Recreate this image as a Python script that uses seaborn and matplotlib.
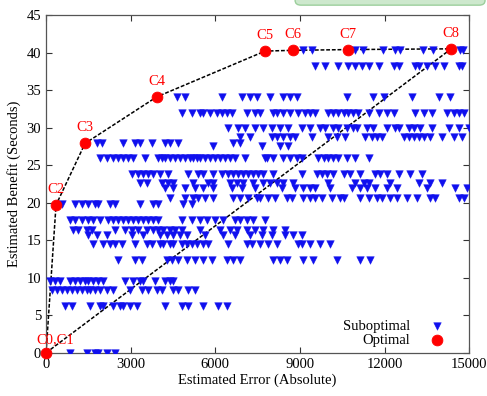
import numpy as np
import pandas as pd
import matplotlib
matplotlib.use("Agg")
import matplotlib.pyplot as plt
from matplotlib.patches import FancyBboxPatch
import seaborn as sns

# Suboptimal configurations, one list of x values per benefit level
row_40_4 = [9113, 9432, 10957, 11241, 11950, 12376, 12553, 13369, 13723, 14680, 14787]
row_38_2 = [9539, 9894, 10366, 10720, 10957, 11194, 11430, 11785, 12317, 12494, 13085,
            13203, 13499, 13794, 14089, 14621, 14739]
row_34_1 = [4634, 4929, 6229, 6939, 7234, 7471, 7943, 8416, 8652, 8889, 10662, 11607,
            11962, 12967, 13912, 14326]
row_32_0 = [4811, 5166, 5461, 5579, 5816, 6052, 6229, 6407, 6584, 7116, 7412, 7589, 8061,
            8180, 8416, 8652, 8948, 9184, 9362, 9539, 10012, 10189, 10366, 10544, 10721,
            10898, 11075, 11430, 11785, 12080, 12317, 13085, 13381, 13676, 14208, 14444,
            14622, 14800]
row_30_0 = [6466, 6820, 7057, 7412, 7707, 8002, 8298, 8593, 9066, 9362, 9716, 9894, 10189,
            10366, 10662, 10898, 11016, 11371, 11607, 12080, 12376, 12494, 12849, 13026,
            13263, 13676, 14267, 14622, 14977]
row_28_8 = [6879, 7234, 8002, 8180, 8416, 8652, 8830, 9421, 10012, 10307, 10603, 11312,
            11549, 11726, 11903, 12671, 12849, 13026, 13204, 13381, 13617, 14031, 14444, 14740]
row_27_9 = [1797, 1974, 2742, 3156, 3333, 3747, 4220, 4397, 4693, 6643, 6879]
row_27_6 = [5934, 7648, 8300, 8593]
row_25_9 = [1915, 2151, 2388, 2565, 2742, 2920, 3097, 3511, 3984, 4102, 4220, 4397, 4575,
            4752, 4929, 5107, 5225, 5343, 5461, 5638, 5816, 5993, 6170, 6348, 6525, 6702,
            7057, 7766, 7825, 8062, 8416, 8652, 8889, 9066, 9657, 9835, 10012, 10189, 10366,
            10662, 10958, 11431]
row_23_8 = [3038, 3274, 3452, 3629, 3806, 4043, 4338, 5047, 5402, 5579, 5934, 6229, 6466,
            6643, 6820, 6998, 7175, 7352, 7530, 7707, 8062, 9066, 9598, 9775, 9953, 10189,
            10544, 10781, 11135, 11667, 11845, 12081, 12494, 12908, 13322]
row_22_6 = [3333, 3570, 4102, 4338, 4515, 5225, 5757, 5934, 6525, 6762, 6998, 7352, 7707,
            7943, 8180, 8416, 8770, 10012, 10958, 11253, 11430, 12199, 13203, 13617, 14031]
row_21_9 = [4220, 4515, 4929, 5284, 5579, 5934, 6584, 6939, 7411, 8357, 8830, 9125, 9362,
            9539, 10071, 10839, 11135, 11371, 11667, 12081, 12435, 13499, 14503, 14917]
row_20_6 = [4397, 4929, 5225, 5402, 5638, 5934, 6643, 6879, 7175, 7471, 7589, 7884, 8121,
            8534, 8712, 9125, 9362, 9539, 9776, 10130, 10426, 10544, 11135, 11430, 11726,
            11903, 12199, 12435, 12790, 13144, 13617, 13794, 14621, 14798]
row_19_8 = [555, 1028, 1264, 1501, 1737, 1855, 2270, 2447, 3333, 3806, 3983, 4870, 5166]
row_17_7 = [851, 1028, 1265, 1501, 1679, 1915, 2210, 2388, 2565, 2742, 2919, 3097, 3274,
            3452, 3629, 3806, 3984, 4811, 5166, 5461, 5698, 5993, 6288, 6702, 6880, 7116,
            7353, 7766]
row_16_4 = [969, 1146, 1442, 1620, 2447, 2801, 3038, 3274, 3570, 3806, 3984, 4161, 4397,
            4575, 4811, 5461, 6170, 6525, 6762, 7116, 7412, 7707, 8061, 8475]
row_15_7 = [1501, 1797, 2151, 3038, 3452, 4043, 4279, 4515, 4752, 4988, 5638, 6288, 6702,
            7234, 7648, 8002, 8475, 8771, 9066]
row_14_5 = [1679, 2033, 2270, 2447, 2683, 3156, 3570, 3747, 4043, 4161, 4397, 4515, 4811,
            4988, 5166, 5343, 5579, 5757, 6466, 7116, 7294, 7589, 7884, 8180, 8948, 9066,
            9362, 9716, 10071]
row_12_4 = [2565, 3156, 3393, 4279, 4456, 4693, 4988, 5284, 5579, 5875, 6407, 6643, 6880,
            8061, 8298, 8534, 9125, 9480, 10307, 11135, 11489]
row_9_6 = [142, 319, 496, 851, 1028, 1206, 1383, 1501, 1678, 1856, 2033, 2801, 3097, 3333,
           3452, 3865, 4220, 4397, 4515]
row_8_4 = [201, 378, 556, 733, 910, 1087, 1264, 1442, 1560, 1737, 1915, 2151, 2388, 2979,
           3393, 3629, 3925, 4102, 4515, 4693, 5047, 5284]
row_6_3 = [674, 910, 1560, 1915, 2033, 2388, 2624, 2742, 2979, 3215, 4220, 4811, 5047,
           5579, 6111, 6407]
row_0_0 = [851, 1442, 1737, 1856, 2151, 2447]

sub_rows = {40.4: row_40_4, 38.2: row_38_2, 34.1: row_34_1, 32.0: row_32_0, 30.0: row_30_0,
            28.8: row_28_8, 27.9: row_27_9, 27.6: row_27_6, 25.9: row_25_9, 23.8: row_23_8,
            22.6: row_22_6, 21.9: row_21_9, 20.6: row_20_6, 19.8: row_19_8, 17.7: row_17_7,
            16.4: row_16_4, 15.7: row_15_7, 14.5: row_14_5, 12.4: row_12_4, 9.6: row_9_6,
            8.4: row_8_4, 6.3: row_6_3, 0.0: row_0_0}

# Optimal configurations (Pareto front)
opt_names = ["C0,C1", "C2", "C3", "C4", "C5", "C6", "C7", "C8"]
opt_error = [0, 355, 1383, 3925, 7766, 8759, 10709, 14361]
opt_benefit = [0, 19.7, 27.9, 34.1, 40.2, 40.3, 40.4, 40.5]

sub = pd.DataFrame([(x, y) for y, xs in sub_rows.items() for x in xs],
                   columns=["error", "benefit"])
opt = pd.DataFrame({"name": opt_names, "error": opt_error, "benefit": opt_benefit})

sns.set_style("ticks")
plt.rcParams["font.family"] = ["Liberation Serif", "DejaVu Serif"]
plt.rcParams["text.color"] = "black"
plt.rcParams["axes.labelcolor"] = "black"
plt.rcParams["xtick.color"] = "black"
plt.rcParams["ytick.color"] = "black"

fig = plt.figure(figsize=(4.87, 3.96), dpi=100)
ax = fig.add_axes([0.0945, 0.109, 0.869, 0.853])

# dashed front and the straight C0-C8 line
dash = (0, (2.5, 1.2))
sns.lineplot(data=opt, x="error", y="benefit", sort=False, ax=ax, color="black",
             linewidth=1.1, linestyle=dash)
sns.lineplot(data=opt.iloc[[0, -1]], x="error", y="benefit", sort=False, ax=ax,
             color="black", linewidth=1.1, linestyle=dash)

sns.scatterplot(data=sub, x="error", y="benefit", ax=ax, marker="v", color="#1010ee",
                s=30, edgecolor="#1010ee", linewidth=0.3, label="Suboptimal", zorder=3)
sns.scatterplot(data=opt, x="error", y="benefit", ax=ax, marker="o", color="#ff0000",
                s=60, edgecolor="#ff0000", label="Optimal", zorder=4, clip_on=False)

for _, r in opt.iterrows():
    off = (9, 7) if r["name"] == "C0,C1" else (0, 9)
    ax.annotate(r["name"], (r["error"], r["benefit"]), xytext=off,
                textcoords="offset pixels", ha="center", va="bottom",
                color="#ff0000", fontsize=10.5)

ax.set_xlim(0, 15000)
ax.set_ylim(0, 45)
ax.set_xticks(np.arange(0, 15001, 3000))
ax.set_yticks(np.arange(0, 46, 5))
ax.tick_params(direction="in", top=True, right=True, labelsize=10.5, length=4,
               color="#333333")
for s in ax.spines.values():
    s.set_color("#555555")
    s.set_linewidth(0.9)
ax.set_xlabel("Estimated Error (Absolute)", fontsize=10.5, labelpad=2)
ax.set_ylabel("Estimated Benefit (Seconds)", fontsize=10.5, labelpad=4)

ax.legend(loc="lower right", bbox_to_anchor=(0.985, -0.018), frameon=False,
          markerfirst=False, fontsize=10.5, handletextpad=0.8, labelspacing=0.05,
          borderpad=0.3)

# green box peeking in at the top right
fig.patches.append(FancyBboxPatch((0.606, 0.987), 0.39, 0.05, transform=fig.transFigure,
                                  boxstyle="round,pad=0,rounding_size=0.012",
                                  facecolor="#cde8cd", edgecolor="#9ccf9c", linewidth=1))

fig.savefig("out.png", dpi=100)
